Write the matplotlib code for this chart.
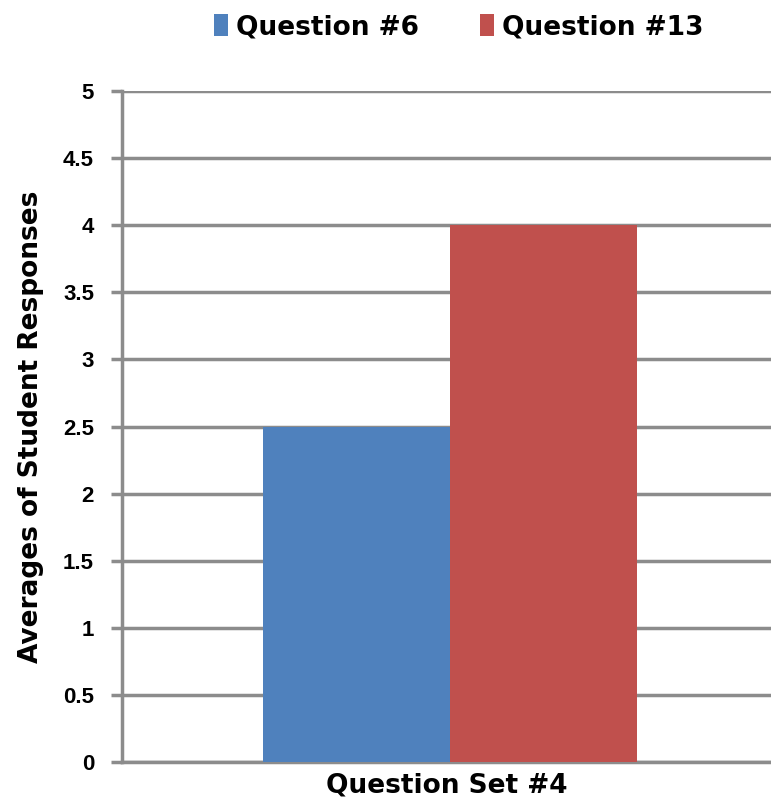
import matplotlib.pyplot as plt
import numpy as np

# Averages of student responses per question
categories = ['Question Set #4']
series_names = ['Question #6', 'Question #13']
series_values = [[2.5], [4.0]]
colors = ['#4f81bd', '#c0504d']

fig = plt.figure(figsize=(7.71, 8.01), dpi=100)
ax = fig.add_axes([0.158, 0.049, 0.842, 0.837])

x = np.arange(len(categories))
width = 0.288
for i, (name, vals) in enumerate(zip(series_names, series_values)):
    offset = (i - 0.5) * width
    ax.bar(x + offset, vals, width, color=colors[i], label=name, zorder=3)

ax.set_xlim(-0.505, 0.495)
ax.set_ylim(0, 5)
ax.set_yticks(np.arange(0, 5.01, 0.5))
ax.set_yticklabels([f'{t:g}' for t in np.arange(0, 5.01, 0.5)],
                   fontsize=16, fontweight='bold', family='Liberation Sans')
ax.set_xticks([])

# gray gridlines and spines
ax.yaxis.grid(True, color='#8c8c8c', linewidth=2.5, zorder=0)
ax.tick_params(axis='y', length=8, width=2.5, color='#8c8c8c', pad=12)
for s in ['top', 'right']:
    ax.spines[s].set_visible(False)
for s in ['left', 'bottom']:
    ax.spines[s].set_color('#8c8c8c')
    ax.spines[s].set_linewidth(2.5)

ax.set_ylabel('Averages of Student Responses', fontsize=19, fontweight='bold', labelpad=14)
ax.set_xlabel(categories[0], fontsize=19, fontweight='bold', labelpad=8)

fig.legend(loc='upper center', bbox_to_anchor=(0.595, 1.012), ncol=2, frameon=False,
           prop={'size': 19, 'weight': 'bold'}, handlelength=0.55, handleheight=0.85,
           handletextpad=0.3, columnspacing=2.3)

fig.savefig('out.png', dpi=100)
